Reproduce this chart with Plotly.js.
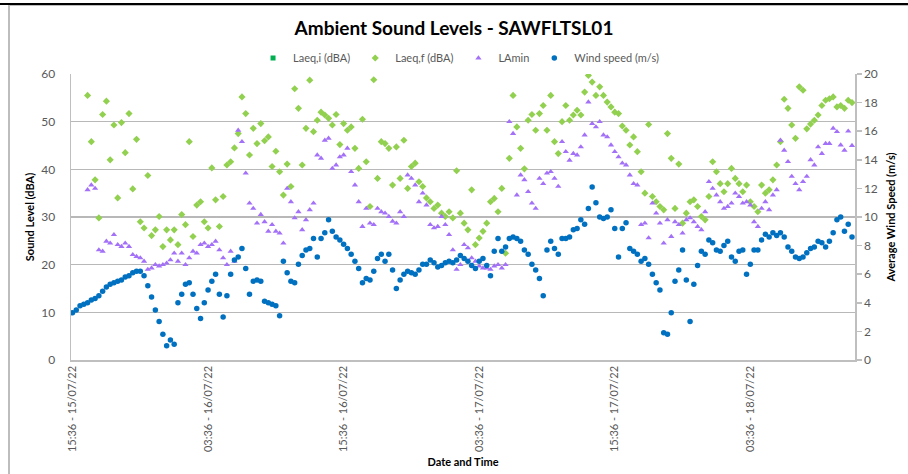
<!DOCTYPE html>
<html>
<head>
<meta charset="utf-8">
<script src="https://cdn.plot.ly/plotly-3.0.1.min.js"></script>
<style>
  html, body { margin: 0; padding: 0; background: #ffffff; }
  #wrap { position: relative; width: 908px; height: 474px; overflow: hidden; }
  #chart { position: absolute; left: 0; top: 0; width: 908px; height: 474px; }
  .frameTop { position: absolute; left: 0; top: 3px; width: 908px; height: 2px; background: #000; pointer-events: none; }
  .frameTop2 { position: absolute; left: 9px; top: 5px; width: 899px; height: 1px; background: #bdbdbd; pointer-events: none; }
  .frameLeft { position: absolute; left: 8px; top: 5px; width: 2px; height: 469px; background: #bdbdbd; pointer-events: none; }
</style>
</head>
<body>
<div id="wrap">
  <div id="chart"></div>
  <div class="frameTop"></div>
  <div class="frameTop2"></div>
  <div class="frameLeft"></div>
</div>
<script>
// ---- Data (20-minute records starting 15:36 15/07/22) ----
const startTime = "2022-07-15T15:36:00Z";
const stepMinutes = 20;

const laeqI = [null];  // Laeq,i (dBA) - no visible points in the chart

const laeqF = [
  null,null,null,null,55.5,45.8,37.8,29.8,51.5,54.3,
  42.0,49.3,34.0,49.8,43.5,51.7,35.9,46.3,29.0,27.7,
  38.7,26.1,27.3,30.1,23.8,27.3,25.2,27.3,24.2,30.5,
  28.4,45.8,25.9,32.5,33.2,29.0,27.7,40.3,33.6,28.0,
  34.3,40.9,41.6,44.5,47.5,55.2,51.7,43.0,48.6,45.4,
  49.6,46.0,46.8,40.6,43.8,39.5,34.6,41.1,36.4,56.9,
  52.8,40.9,48.6,58.7,47.9,50.3,52.0,51.4,50.7,49.3,
  51.5,45.2,49.6,48.2,48.9,44.4,40.2,50.5,41.6,32.2,
  58.8,38.1,45.8,45.4,44.4,36.7,44.7,38.1,46.1,36.0,
  40.6,41.3,37.4,36.4,34.0,33.2,31.8,32.5,30.8,30.1,
  31.1,29.8,39.7,30.8,28.7,27.3,35.7,24.2,25.6,27.0,
  28.7,33.2,33.9,31.1,36.0,22.4,42.3,55.5,48.9,44.4,
  40.1,50.3,51.5,48.2,51.7,53.4,48.2,55.5,45.8,43.3,
  50.0,53.4,50.3,51.4,52.4,51.4,56.2,59.7,58.3,55.5,
  57.3,55.5,54.1,53.1,52.0,51.7,49.1,48.2,45.1,46.8,
  43.7,39.5,35.0,49.4,34.3,33.2,32.2,31.5,47.5,42.3,
  31.8,41.1,28.7,30.8,33.2,33.6,32.2,30.1,29.4,34.3,
  41.6,39.5,37.0,35.3,37.0,40.2,38.1,37.0,35.3,36.7,
  33.2,32.2,31.1,36.7,35.0,35.7,37.8,40.9,45.8,54.7,
  52.8,49.3,46.5,57.3,56.6,48.5,49.5,50.3,51.4,53.4,
  54.5,54.8,55.2,53.1,53.4,52.8,54.5,54.0
];

const laMin = [
  null,null,null,null,35.7,36.7,36.0,23.1,22.8,24.9,
  24.5,26.3,24.2,23.8,24.5,23.8,22.1,21.7,21.4,20.7,
  19.0,19.3,20.0,19.7,20.0,20.3,21.0,22.4,20.7,22.4,
  20.0,21.4,22.8,22.4,24.2,24.5,23.8,24.2,24.9,23.1,
  21.4,20.0,22.8,20.7,48.2,45.8,39.2,32.9,31.8,28.7,
  30.5,29.0,27.0,28.4,27.0,26.6,24.5,36.0,33.2,29.8,
  31.1,27.3,29.4,31.5,32.9,43.0,42.3,46.1,46.5,40.2,
  40.9,42.6,43.0,44.4,39.5,36.7,33.2,28.0,31.8,28.7,
  28.4,31.8,31.1,30.8,30.1,29.1,28.7,31.1,30.1,38.8,
  38.1,36.7,33.2,35.0,32.5,28.4,27.7,28.0,30.1,28.4,
  26.3,23.1,19.0,20.0,24.2,23.5,21.4,20.7,19.7,19.3,
  19.3,19.0,19.7,20.0,19.3,20.0,50.0,47.5,34.6,38.8,
  37.8,35.3,32.9,31.8,38.1,37.0,39.2,39.5,38.1,36.4,
  45.8,43.7,41.9,43.3,43.0,44.7,47.2,54.1,49.6,48.9,
  50.0,47.2,46.8,45.1,43.7,42.6,41.3,40.9,38.8,37.0,
  36.7,28.4,28.7,25.6,32.9,30.8,28.7,24.5,29.4,25.9,
  29.0,28.4,26.6,29.4,29.8,29.0,28.0,27.3,31.1,37.4,
  36.0,34.6,33.2,31.8,32.2,32.9,35.0,34.3,32.9,33.2,
  32.5,29.0,28.0,31.8,33.2,31.5,34.6,35.7,46.1,44.0,
  41.6,38.5,37.0,35.7,37.4,38.5,42.0,40.9,44.7,43.3,
  45.4,45.4,48.6,47.9,45.1,44.0,48.0,45.0
];

const windSpeed = [
  3.3,3.5,3.8,3.9,4.0,4.2,4.3,4.5,4.8,5.1,
  5.3,5.4,5.5,5.6,5.8,5.9,6.1,6.2,6.2,5.9,
  5.2,4.4,3.5,2.7,1.8,1.0,1.4,1.1,4.0,4.6,
  5.3,5.4,4.6,3.6,2.9,4.0,4.9,5.5,6.0,4.6,
  3.0,4.5,6.0,7.0,7.2,7.8,6.4,4.6,5.5,5.6,
  5.5,4.1,4.0,3.9,3.8,3.1,6.9,6.1,5.5,5.4,
  6.7,7.3,7.7,7.8,8.5,7.2,8.5,8.9,9.8,9.0,
  8.6,8.4,8.1,7.8,7.4,6.9,6.4,5.4,5.7,5.6,
  6.2,7.1,7.4,6.9,7.4,6.3,5.0,5.6,6.0,6.2,
  6.1,6.0,6.3,6.7,6.7,7.0,6.8,6.5,6.6,6.8,
  6.9,6.8,7.0,7.3,7.1,6.9,6.6,6.4,6.9,7.1,
  6.6,5.9,7.6,8.5,7.6,7.9,8.5,8.6,8.5,8.3,
  7.7,7.4,6.7,6.3,5.7,4.5,7.7,8.3,7.8,7.4,
  8.5,8.5,8.6,9.1,9.2,9.8,9.5,10.6,12.1,11.0,
  10.0,9.9,10.0,10.5,9.2,7.2,9.2,9.6,7.8,7.6,
  7.4,6.9,7.1,6.7,6.0,5.4,4.9,1.9,1.8,3.3,
  5.5,6.3,7.7,5.6,2.7,5.3,6.6,7.6,7.4,8.4,
  8.2,7.7,7.6,8.0,8.3,7.2,6.9,7.6,7.7,6.0,
  6.7,7.7,7.7,8.4,8.8,8.6,8.9,8.7,8.9,8.6,
  7.9,7.6,7.2,7.1,7.2,7.5,7.8,7.9,8.3,8.2,
  7.9,8.3,8.9,9.8,10.0,9.0,9.5,8.6
];

const tickValues = [
  "2022-07-15 15:36", "2022-07-16 03:36", "2022-07-16 15:36",
  "2022-07-17 03:36", "2022-07-17 15:36", "2022-07-18 03:36"
];
const tickLabels = [
  "15:36 - 15/07/22", "03:36 - 16/07/22", "15:36 - 16/07/22",
  "03:36 - 17/07/22", "15:36 - 17/07/22", "03:36 - 18/07/22"
];
const xRange = ["2022-07-15 15:28", "2022-07-18 12:52"];

// ---- Build time stamps for records ----
const t0 = Date.parse(startTime);
function stamp(i) {
  return new Date(t0 + i * stepMinutes * 60000).toISOString().slice(0, 16).replace("T", " ");
}
const times = windSpeed.map((_, i) => stamp(i));

const FONT = "Lato, 'Open Sans', 'Liberation Sans', sans-serif";
const GREY_TXT = "#595959";

const traces = [
  {
    name: "Laeq,i (dBA)", type: "scatter", mode: "markers",
    x: laeqI.map((_, i) => stamp(i)), y: laeqI,
    marker: { symbol: "square", size: 5, color: "#00b050" },
    yaxis: "y", showlegend: true
  },
  {
    name: "Laeq,f (dBA)", type: "scatter", mode: "markers",
    x: times, y: laeqF,
    marker: { symbol: "diamond", size: 5.5, color: "#92d050" },
    yaxis: "y"
  },
  {
    name: "LAmin", type: "scatter", mode: "markers",
    x: times, y: laMin,
    marker: { symbol: "triangle-up", size: 5.5, color: "#a371f7" },
    yaxis: "y"
  },
  {
    name: "Wind speed (m/s)", type: "scatter", mode: "markers",
    x: times, y: windSpeed,
    marker: { symbol: "circle", size: 5.5, color: "#0070c0" },
    yaxis: "y2"
  }
];

const layout = {
  width: 908, height: 474,
  margin: { l: 71, r: 53, t: 74, b: 114, pad: 0 },
  paper_bgcolor: "#ffffff", plot_bgcolor: "#ffffff",
  font: { family: FONT, size: 11, color: GREY_TXT },
  title: {
    text: "<b>Ambient Sound Levels - SAWFLTSL01</b>",
    font: { family: FONT, size: 19, color: "#000000" },
    x: 0.5, xanchor: "center", y: 1 - 28 / 474, yanchor: "middle"
  },
  showlegend: true,
  legend: {
    orientation: "h", xref: "container", yref: "container",
    x: 0.505, xanchor: "center", y: 1 - 58 / 474, yanchor: "middle",
    font: { family: FONT, size: 11, color: GREY_TXT },
    itemwidth: 30, tracegroupgap: 0, bgcolor: "rgba(0,0,0,0)"
  },
  xaxis: {
    type: "date", range: xRange,
    tickmode: "array", tickvals: tickValues, ticktext: tickLabels,
    tickangle: -90, ticks: "", showgrid: false, zeroline: false,
    showline: true, linecolor: "#bfbfbf", linewidth: 1.5,
    tickfont: { family: FONT, size: 11, color: GREY_TXT },
    title: { text: "<b>Date and Time</b>", font: { family: FONT, size: 11, color: "#000000" }, standoff: 7 },
    automargin: false
  },
  yaxis: {
    range: [0, 60], dtick: 10, tick0: 0,
    showgrid: true, gridcolor: "#b8b8b8", gridwidth: 1.5,
    zeroline: false, showline: true, linecolor: "#bfbfbf", linewidth: 1.5,
    ticks: "", ticklabelstandoff: 12,
    tickfont: { family: FONT, size: 12, color: GREY_TXT },
    title: { text: "<b>Sound Level (dBA)</b>", font: { family: FONT, size: 11, color: "#000000" }, standoff: 4 },
    automargin: false
  },
  yaxis2: {
    range: [0, 20], dtick: 2, tick0: 0,
    overlaying: "y", side: "right",
    showgrid: false, zeroline: false,
    showline: true, linecolor: "#bfbfbf", linewidth: 1.5,
    ticks: "outside", ticklen: 5, tickcolor: "#bfbfbf", tickwidth: 1.5,
    tickfont: { family: FONT, size: 12, color: GREY_TXT },
    title: { text: "<b>Average Wind Speed (m/s)</b>", font: { family: FONT, size: 11, color: "#000000" }, standoff: 10 },
    automargin: false
  }
};

Plotly.newPlot("chart", traces, layout, { displayModeBar: false, staticPlot: true });
</script>
</body>
</html>
